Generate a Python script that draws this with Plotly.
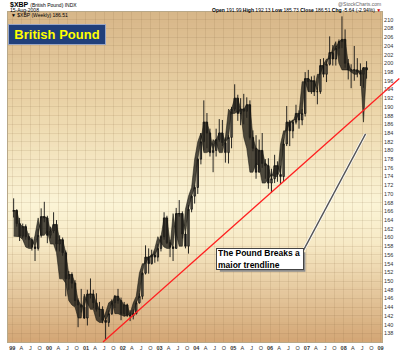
import pandas as pd
import plotly.graph_objects as go

# ---------------- data (monthly candles, x100 USD) ----------------
months = pd.date_range("1998-12-15", "2008-08-15", freq="MS") + pd.Timedelta(days=14)

opens = [166.0, 166.2, 163.2, 160.3, 162.5, 160.2, 159.5, 157.8, 157.5, 160.5, 164.8, 164.5, 160.5,
         161.5, 163.0, 158.5, 159.5, 156.5, 150.5, 151.5, 149.5, 145.5, 144.5, 144.0, 141.5,
         147.0, 147.0, 145.0, 143.5, 143.5, 141.0, 140.5, 142.5, 145.0, 146.5, 145.5, 142.5,
         144.5, 142.2, 142.0, 142.5, 145.0, 146.5, 151.8, 155.5, 154.0, 156.0, 155.5, 157.5,
         160.2, 164.5, 158.8, 157.8, 157.5, 165.5, 165.5, 160.8, 158.0, 166.5, 169.5, 171.5,
         178.0, 182.0, 186.5, 184.0, 179.5, 180.0, 182.5, 184.0, 181.8, 179.5, 183.0, 189.5,
         192.0, 188.5, 189.5, 189.0, 190.5, 183.0, 180.5, 175.0, 180.0, 177.0, 176.5, 172.5,
         173.5, 176.5, 174.5, 174.0, 181.5, 186.5, 184.5, 186.5, 188.5, 187.0, 188.5, 196.5,
         195.8, 196.0, 193.5, 193.5, 199.5, 197.5, 199.8, 202.5, 201.0, 203.5, 205.0, 205.5,
         200.0, 198.5, 198.5, 198.5, 198.0, 197.5, 199.0, 198.5]
highs = [169.0, 166.5, 164.5, 163.2, 163.0, 161.0, 160.0, 158.0, 162.0, 166.7, 168.2, 165.0, 162.5,
         165.8, 164.0, 160.5, 160.0, 157.0, 152.3, 152.0, 150.2, 146.0, 148.2, 146.5, 148.0,
         150.6, 148.0, 147.2, 145.2, 144.2, 141.5, 143.3, 145.8, 146.8, 148.2, 146.2, 145.2,
         144.8, 143.3, 143.5, 145.5, 147.2, 152.0, 158.2, 157.5, 157.2, 156.8, 158.5, 160.5,
         165.8, 165.0, 159.5, 158.0, 166.8, 168.6, 166.0, 161.2, 167.5, 169.8, 172.0, 178.2,
         184.0, 191.5, 188.6, 185.0, 181.5, 185.0, 187.2, 187.0, 183.0, 183.5, 190.0, 195.2,
         192.8, 192.0, 193.0, 192.2, 191.5, 184.6, 183.5, 182.5, 184.0, 178.0, 178.2, 175.8,
         179.0, 177.5, 176.5, 182.5, 190.2, 187.0, 187.0, 190.5, 189.2, 189.5, 198.0, 198.5,
         197.0, 197.2, 194.5, 201.0, 201.2, 200.5, 206.2, 204.2, 204.0, 205.5, 210.8, 207.8,
         201.0, 199.8, 204.0, 201.2, 200.0, 198.5, 200.5, 200.0]
lows = [164.6, 162.5, 159.2, 159.8, 159.5, 157.8, 157.0, 154.6, 157.0, 160.0, 163.5, 158.7, 159.8,
        161.0, 157.0, 156.8, 155.8, 146.5, 148.0, 148.3, 144.3, 139.4, 142.8, 141.3, 139.8,
        146.0, 143.8, 143.0, 141.8, 140.3, 136.5, 139.5, 142.2, 143.8, 144.8, 141.0, 141.8,
        141.8, 140.8, 141.2, 142.3, 144.8, 145.8, 151.5, 151.7, 153.8, 154.2, 154.5, 156.8,
        159.5, 158.5, 155.5, 154.6, 157.5, 164.8, 159.8, 157.5, 156.3, 165.8, 167.8, 170.0,
        176.8, 180.0, 180.5, 178.6, 175.0, 178.6, 182.0, 181.0, 177.2, 177.0, 180.5, 189.0,
        186.8, 185.8, 186.0, 187.5, 182.5, 179.8, 173.5, 175.0, 176.0, 173.5, 171.2, 170.3,
        172.5, 172.8, 172.3, 172.8, 181.0, 181.0, 182.8, 186.0, 185.0, 185.8, 187.8, 193.5,
        193.0, 192.5, 190.6, 193.0, 196.8, 195.7, 199.5, 199.5, 199.5, 201.8, 203.5, 199.0,
        196.3, 194.3, 196.0, 196.8, 194.8, 194.4, 196.5, 185.8]
closes = [166.2, 163.2, 160.3, 162.5, 160.2, 159.5, 157.8, 157.5, 160.5, 164.8, 164.5, 160.5, 161.5,
          163.0, 158.5, 159.5, 156.5, 150.5, 151.5, 149.5, 145.5, 144.5, 144.0, 141.5, 147.0,
          147.0, 145.0, 143.5, 143.5, 141.0, 140.5, 142.5, 145.0, 146.5, 145.5, 142.5, 144.5,
          142.2, 142.0, 142.5, 145.0, 146.5, 151.8, 155.5, 154.0, 156.0, 155.5, 157.5, 160.2,
          164.5, 158.8, 157.8, 157.5, 165.5, 165.5, 160.8, 158.0, 166.5, 169.5, 171.5, 178.0,
          182.0, 186.5, 184.0, 179.5, 180.0, 182.5, 184.0, 181.8, 179.5, 183.0, 189.5, 192.0,
          188.5, 189.5, 189.0, 190.5, 183.0, 180.5, 175.0, 180.0, 177.0, 176.5, 172.5, 173.5,
          176.5, 174.5, 174.0, 181.5, 186.5, 184.5, 186.5, 188.5, 187.0, 188.5, 196.5, 195.8,
          196.0, 193.5, 193.5, 199.5, 197.5, 199.8, 202.5, 201.0, 203.5, 205.0, 205.5, 200.0,
          198.5, 198.5, 198.5, 198.0, 197.5, 199.0, 198.5, 186.5]

# trendline anchor points (date, value)
trend_dates = ["2001-06-19", "2009-07-06"]
trend_values = [136.0, 196.5]

# callout: from box corner to the breakdown point
callout_dates = ["2006-11-29", "2008-08-05"]
callout_values = [157.1, 183.8]

y_ticks = list(range(138, 212, 2))
x_tick_dates = pd.date_range("1999-01-01", "2009-01-01", freq="QS")
x_tick_text = [f"<b>{d.strftime('%y')}</b>" if d.month == 1 else {4: "A", 7: "J", 10: "O"}[d.month]
               for d in x_tick_dates]

X_RANGE = [pd.Timestamp("1998-11-20"), pd.Timestamp("2009-01-15")]
Y_RANGE = [136.0, 211.8]

FONT = "Arial, Liberation Sans, sans-serif"

body_top = [max(o, c) for o, c in zip(opens, closes)]
body_bot = [min(o, c) for o, c in zip(opens, closes)]

fig = go.Figure()
# dense band through the candle bodies (stands in for the packed weekly candles)
fig.add_trace(go.Scatter(
    x=list(months) + list(months[::-1]), y=body_top + body_bot[::-1],
    fill="toself", fillcolor="rgba(35,33,26,0.8)", line=dict(width=0.6, color="rgba(20,20,15,0.9)"),
    mode="lines", hoverinfo="skip", showlegend=False,
))
fig.add_trace(go.Candlestick(
    x=months, open=opens, high=highs, low=lows, close=closes,
    increasing=dict(line=dict(color="#111111", width=0.9), fillcolor="#77705f"),
    decreasing=dict(line=dict(color="#111111", width=0.9), fillcolor="#111111"),
    whiskerwidth=0, showlegend=False, hoverinfo="skip",
))

# ---- background gradient (styling strips) ----
stops = [(0.0, (215, 182, 136)), (0.3, (236, 214, 170)), (0.58, (251, 244, 214)),
         (0.7, (247, 234, 198)), (1.0, (211, 166, 117))]
def col_at(t):
    for (t0, c0), (t1, c1) in zip(stops[:-1], stops[1:]):
        if t0 <= t <= t1:
            f = (t - t0) / (t1 - t0)
            return "rgb(%d,%d,%d)" % tuple(round(a + (b - a) * f) for a, b in zip(c0, c1))
    return "rgb(%d,%d,%d)" % stops[-1][1]

shapes = []
N = 85
for i in range(N):
    t = (i + 0.5) / N  # from top
    shapes.append(dict(type="rect", xref="paper", yref="paper", x0=0, x1=1,
                       y0=1 - (i + 1) / N, y1=1 - i / N + 0.002,
                       fillcolor=col_at(t), line=dict(width=0), layer="below"))

def px_x(d):
    d = pd.Timestamp(d)
    return (d - X_RANGE[0]) / (X_RANGE[1] - X_RANGE[0])

def px_y(v):
    return (v - Y_RANGE[0]) / (Y_RANGE[1] - Y_RANGE[0])

def py(p):  # pixel y -> paper y (plot spans 12..350)
    return (350 - p) / 338

def pxp(p):  # pixel x -> paper x (plot spans 7..383)
    return (p - 7) / 376

# red trendline (paper coords so it can run past the plot edge like the original)
shapes.append(dict(type="line", xref="paper", yref="paper",
                   x0=px_x(trend_dates[0]), y0=px_y(trend_values[0]),
                   x1=px_x(trend_dates[1]), y1=px_y(trend_values[1]),
                   line=dict(color="#ff2020", width=1.3), layer="above"))
# callout line with light edge
shapes.append(dict(type="line", xref="x", yref="y",
                   x0=callout_dates[0], y0=callout_values[0], x1=callout_dates[1], y1=callout_values[1],
                   line=dict(color="#ffffff", width=3), layer="above"))
shapes.append(dict(type="line", xref="x", yref="y",
                   x0=callout_dates[0], y0=callout_values[0], x1=callout_dates[1], y1=callout_values[1],
                   line=dict(color="#555555", width=1.4), layer="above"))
# callout box drop shadow
shapes.append(dict(type="rect", xref="paper", yref="paper",
                   x0=pxp(220), x1=pxp(306), y0=py(278), y1=py(258),
                   fillcolor="#8c8c8c", line=dict(width=0), layer="above"))

annotations = [
    dict(text="<b>$XBP</b> <span style='font-size:5px'>(British Pound) INDX</span>",
         xref="paper", yref="paper", x=pxp(7), y=py(4.5), xanchor="left", yanchor="middle",
         showarrow=False, font=dict(size=7, color="#000000", family=FONT)),
    dict(text="15-Aug-2008", xref="paper", yref="paper", x=pxp(7), y=py(10),
         xanchor="left", yanchor="middle", showarrow=False,
         font=dict(size=5, color="#000000", family=FONT)),
    dict(text="▼ $XBP (Weekly) 186.51", xref="paper", yref="paper", x=pxp(8), y=py(15),
         xanchor="left", yanchor="middle", showarrow=False,
         font=dict(size=5, color="#000000", family=FONT)),
    dict(text="@StockCharts.com", xref="paper", yref="paper", x=pxp(384), y=py(4),
         xanchor="right", yanchor="middle", showarrow=False,
         font=dict(size=5, color="#666666", family=FONT)),
    dict(text="<b>Open</b> 191.99 <b>High</b> 192.13 <b>Low</b> 185.73 <b>Close</b> 186.51 "
              "<b>Chg</b> -5.64 (-2.94%) <span style='color:#d00000'>▼</span>",
         xref="paper", yref="paper", x=pxp(384), y=py(9.8), xanchor="right", yanchor="middle",
         showarrow=False, font=dict(size=5, color="#000000", family=FONT)),
    dict(text="<b>British Pound</b>", xref="paper", yref="paper", x=pxp(56), y=py(35.5),
         xanchor="center", yanchor="middle", showarrow=False,
         font=dict(size=13, color="#ffff00", family=FONT),
         bgcolor="#203f7a", bordercolor="#9aa6c4", borderwidth=1, borderpad=2, width=92, height=15),
    dict(text="<b>The Pound Breaks a<br>major trendline</b>", xref="paper", yref="paper",
         x=pxp(260.5), y=py(265), xanchor="center", yanchor="middle",
         showarrow=False, align="left", font=dict(size=8.5, color="#000000", family=FONT),
         bgcolor="#ffffff", bordercolor="#444444", borderwidth=1, borderpad=1, width=84, height=18),
]

fig.update_layout(
    width=400, height=358,
    margin=dict(l=7, r=17, t=12, b=8),
    paper_bgcolor="#ffffff", plot_bgcolor="#f5e8c8",
    font=dict(family=FONT, size=6, color="#333333"),
    shapes=shapes, annotations=annotations,
    showlegend=False,
    xaxis=dict(range=X_RANGE, rangeslider=dict(visible=False), tickmode="array",
               tickvals=x_tick_dates, ticktext=x_tick_text, tickfont=dict(size=5.5, color="#333333"),
               showgrid=True, gridcolor="rgba(130,100,60,0.13)", gridwidth=1,
               showline=True, linecolor="#b8a888", linewidth=1, mirror=True, ticks="", ticklen=0),
    yaxis=dict(range=Y_RANGE, side="right", tickmode="array", tickvals=y_ticks,
               tickfont=dict(size=5.5, color="#333333"),
               showgrid=True, gridcolor="rgba(130,100,60,0.13)", gridwidth=1,
               showline=True, linecolor="#b8a888", linewidth=1, mirror=True, ticks="", zeroline=False),
)

fig.write_html("out.html", config={"displayModeBar": False},
               post_script="document.body.style.margin='0px';")
